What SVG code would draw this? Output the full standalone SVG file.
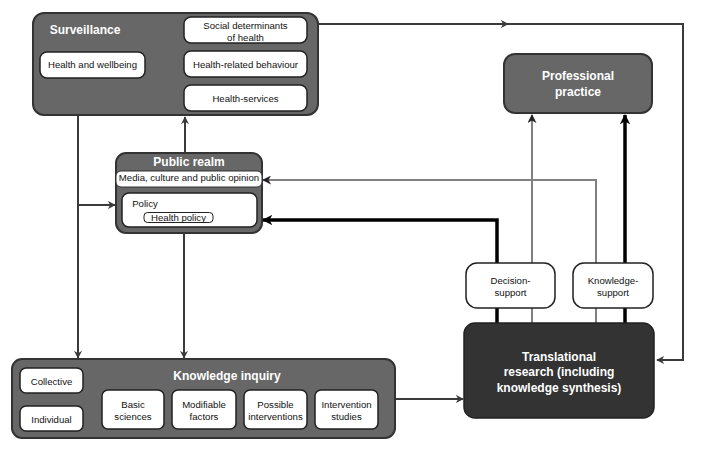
<svg xmlns="http://www.w3.org/2000/svg" width="703" height="452" viewBox="0 0 703 452">
<style>
text{font-family:"Liberation Sans",Arial,sans-serif;}
.t{font-size:9.6px;fill:#111;text-anchor:middle;}
.h{font-size:12px;font-weight:bold;fill:#fff;text-anchor:middle;}
.g{fill:#676767;stroke:#333;stroke-width:2;}
.w{fill:#fff;stroke:#222;stroke-width:1.5;}
.dk{fill:none;stroke:#3a3a3a;stroke-width:2;}
.gr{fill:none;stroke:#808080;stroke-width:2;}
.bk{fill:none;stroke:#000;stroke-width:3.5;}
</style>
<defs>
<marker id="ad" viewBox="0 0 10 10" refX="9" refY="5" markerWidth="4" markerHeight="4" orient="auto" markerUnits="strokeWidth"><path d="M0,0 L10,5 L0,10 L3,5 z" fill="#3a3a3a"/></marker>
<marker id="ag" viewBox="0 0 10 10" refX="9" refY="5" markerWidth="4.5" markerHeight="4.5" orient="auto" markerUnits="strokeWidth"><path d="M0,0 L10,5 L0,10 L3,5 z" fill="#222"/></marker>
<marker id="ab" viewBox="0 0 10 10" refX="9" refY="5" markerWidth="3" markerHeight="3" orient="auto" markerUnits="strokeWidth"><path d="M0,0 L10,5 L0,10 L3,5 z" fill="#000"/></marker>
</defs>

<g id="connectors">
<path class="dk" d="M318,24 L508,24" marker-end="url(#ad)"/>
<path class="dk" d="M506,24 L683,24 L683,360 L657,360" marker-end="url(#ad)"/>
<path class="dk" d="M78,116 L78,358" marker-end="url(#ad)"/>
<path class="dk" d="M78,205 L115,205" marker-end="url(#ad)"/>
<path class="dk" d="M185,153 L185,117" marker-end="url(#ad)"/>
<path class="dk" d="M184,233 L184,358" marker-end="url(#ad)"/>
<path class="dk" d="M395,399 L463,399" stroke="#555" marker-end="url(#ad)"/>
<path class="bk" d="M497,323 L497,220 L263,220" marker-end="url(#ab)"/>
<path class="gr" d="M532,323 L532,115" marker-end="url(#ag)"/>
<path class="gr" d="M596,323 L596,180 L263,180" marker-end="url(#ag)"/>
<path class="bk" d="M625,323 L625,115" marker-end="url(#ab)"/>
</g>

<g id="surveillance">
<rect class="g" x="33" y="13" width="285" height="102" rx="11"/>
<text class="h" x="85" y="33.5">Surveillance</text>
</g>
<g id="health-wellbeing">
<rect class="w" x="40" y="52" width="105" height="26" rx="7"/>
<text class="t" x="92.5" y="67.5">Health and wellbeing</text>
</g>
<g id="social-determinants">
<rect class="w" x="184" y="17" width="123" height="26" rx="7"/>
<text class="t" x="245.5" y="28.5">Social determinants</text>
<text class="t" x="245.5" y="40.5">of health</text>
</g>
<g id="health-behaviour">
<rect class="w" x="184" y="51" width="123" height="26" rx="7"/>
<text class="t" x="245.5" y="67.5">Health-related behaviour</text>
</g>
<g id="health-services">
<rect class="w" x="184" y="85" width="123" height="26" rx="7"/>
<text class="t" x="245.5" y="102">Health-services</text>
</g>

<g id="public-realm">
<rect class="g" x="116" y="153" width="146" height="80" rx="10"/>
<text class="h" x="189" y="165.5">Public realm</text>
<rect x="116" y="171" width="146" height="16" rx="5" fill="#fff" stroke="#333" stroke-width="1"/>
<text class="t" x="189" y="180.5">Media, culture and public opinion</text>
<rect class="w" x="122" y="193" width="135" height="34" rx="7"/>
<text class="t" x="145" y="206.5" text-anchor="start">Policy</text>
<rect x="144" y="212.5" width="69" height="10" rx="3.5" fill="#fff" stroke="#222" stroke-width="1"/>
<text class="t" x="178.5" y="220.5">Health policy</text>
</g>

<g id="knowledge-inquiry">
<rect class="g" x="12" y="359" width="383" height="79" rx="10"/>
<text class="h" x="227" y="379.5">Knowledge inquiry</text>
</g>
<g id="collective">
<rect class="w" x="20" y="368" width="63" height="25" rx="6"/>
<text class="t" x="51.5" y="384.5">Collective</text>
</g>
<g id="individual">
<rect class="w" x="20" y="406" width="63" height="25" rx="6"/>
<text class="t" x="51.5" y="422.5">Individual</text>
</g>
<g id="basic-sciences">
<rect class="w" x="102" y="390" width="62" height="39" rx="6"/>
<text class="t" x="133" y="407.5">Basic</text>
<text class="t" x="133" y="419.5">sciences</text>
</g>
<g id="modifiable-factors">
<rect class="w" x="172" y="390" width="64" height="39" rx="6"/>
<text class="t" x="204" y="407.5">Modifiable</text>
<text class="t" x="204" y="419.5">factors</text>
</g>
<g id="possible-interventions">
<rect class="w" x="244" y="390" width="63" height="39" rx="6"/>
<text class="t" x="275.5" y="407.5">Possible</text>
<text class="t" x="275.5" y="419.5">interventions</text>
</g>
<g id="intervention-studies">
<rect class="w" x="315" y="390" width="63" height="39" rx="6"/>
<text class="t" x="346.5" y="407.5">Intervention</text>
<text class="t" x="346.5" y="419.5">studies</text>
</g>

<g id="professional-practice">
<rect class="g" x="504" y="54" width="148" height="59" rx="11"/>
<text class="h" x="578" y="80">Professional</text>
<text class="h" x="578" y="96">practice</text>
</g>

<g id="decision-support">
<rect class="w" x="466" y="263" width="89" height="45" rx="11"/>
<text class="t" x="510.5" y="283.5">Decision-</text>
<text class="t" x="510.5" y="295.5">support</text>
</g>
<g id="knowledge-support">
<rect class="w" x="573" y="263" width="80" height="45" rx="11"/>
<text class="t" x="613" y="283.5">Knowledge-</text>
<text class="t" x="613" y="295.5">support</text>
</g>

<g id="translational-research">
<rect x="464" y="323" width="190" height="95" rx="11" fill="#333" stroke="#222" stroke-width="1.5"/>
<text class="h" x="559" y="360.5">Translational</text>
<text class="h" x="559" y="376">research (including</text>
<text class="h" x="559" y="391.5">knowledge synthesis)</text>
</g>
</svg>
